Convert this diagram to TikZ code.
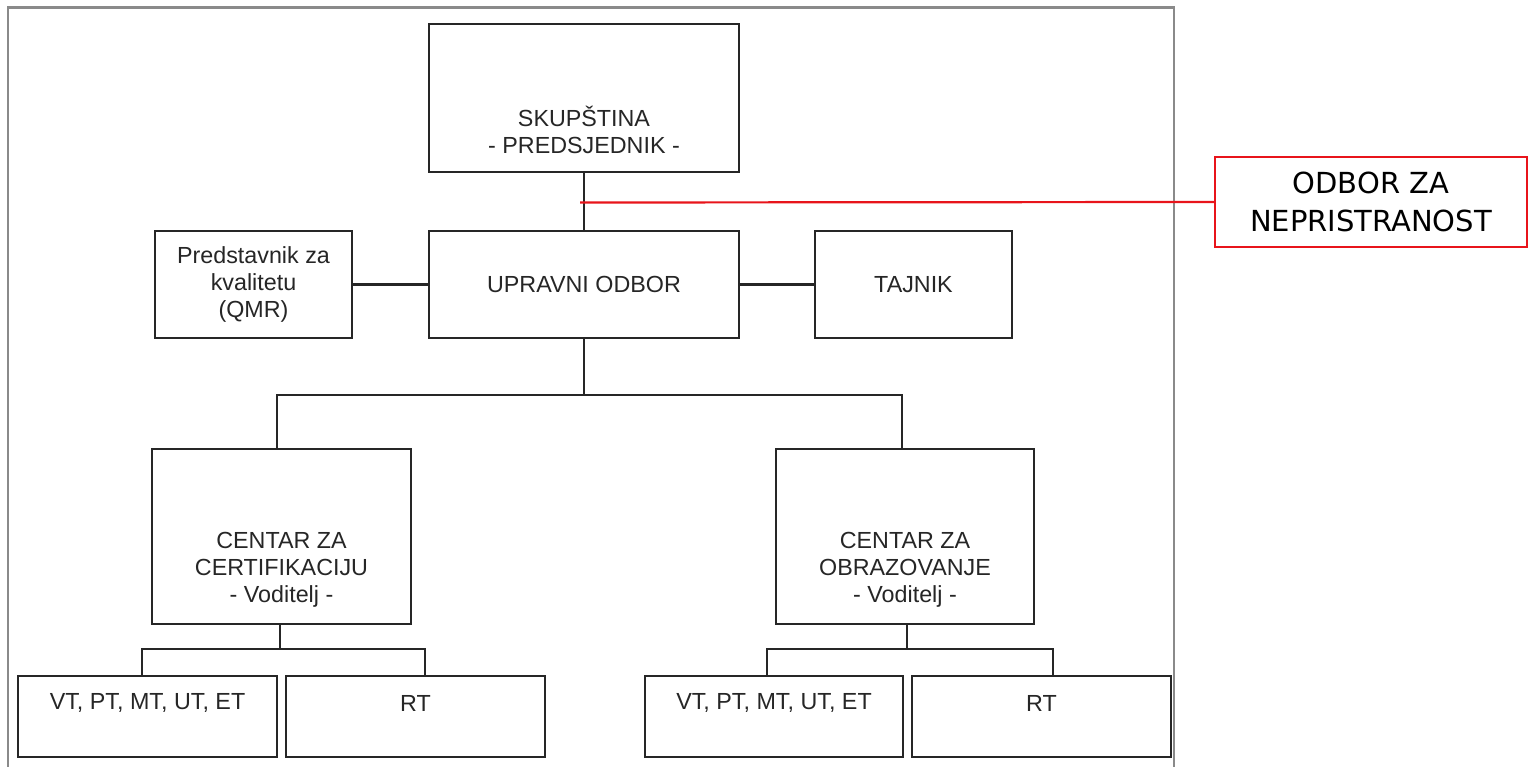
\documentclass[tikz,border=0pt]{standalone}
\usepackage{fontspec}
\setmainfont{Liberation Sans}
\newfontfamily\redfont{DejaVu Sans}
\definecolor{ink}{HTML}{262626}
\definecolor{framegray}{HTML}{8A8A8A}
\definecolor{redline}{HTML}{E8141B}
\begin{document}
\begin{tikzpicture}[x=1pt,y=-1pt,
  box/.style={draw=ink,line width=2.6pt,rectangle,inner sep=0pt,fill=white},
  txt/.style={text=ink,align=center,font=\fontsize{23.3}{27}\selectfont,inner sep=0pt},
  conn/.style={draw=ink,line width=2.3pt},
  redbox/.style={draw=redline,line width=2.2pt,rectangle,inner sep=0pt,align=center,
     font=\redfont\fontsize{29}{38.5}\selectfont,text=black},
  redconn/.style={draw=redline,line width=2.2pt}]
\useasboundingbox (0,0) rectangle (1531,767);
\fill[white] (0,0) rectangle (1531,767);
% frame
\draw[framegray,line width=2.2pt] (8,767) -- (8,7.5) -- (1174,7.5) -- (1174,767);

% boxes
\node[box,minimum width=310pt,minimum height=148pt] (skup) at (584,98) {};
\node[txt] (skupt) at (584,130) {SKUPŠTINA\\- PREDSJEDNIK -};
\node[box,minimum width=310pt,minimum height=107pt,txt] (upr) at (584,284.5) {UPRAVNI ODBOR};
\node[box,minimum width=197pt,minimum height=107pt,txt] (qmr) at (253.5,284.5) {Predstavnik za\\kvalitetu\\(QMR)};
\node[box,minimum width=197pt,minimum height=107pt,txt] (taj) at (913.5,284.5) {TAJNIK};

\node[box,minimum width=259pt,minimum height=175pt] (cc) at (281.5,536.5) {};
\node[txt] (cct) at (281.5,570) {CENTAR ZA\\CERTIFIKACIJU\\- Voditelj -};
\node[box,minimum width=258pt,minimum height=175pt] (co) at (905,536.5) {};
\node[txt] (cot) at (905,570) {CENTAR ZA\\OBRAZOVANJE\\- Voditelj -};

\node[box,minimum width=259pt,minimum height=81pt] (b1) at (147.5,716.5) {};
\node[txt] (b1t) at (147.5,703) {VT, PT, MT, UT, ET};
\node[box,minimum width=259pt,minimum height=81pt] (b2) at (415.5,716.5) {};
\node[txt] (b2t) at (415.5,703) {RT};
\node[box,minimum width=258pt,minimum height=81pt] (b3) at (774,716.5) {};
\node[txt] (b3t) at (774,703) {VT, PT, MT, UT, ET};
\node[box,minimum width=259pt,minimum height=81pt] (b4) at (1041.5,716.5) {};
\node[txt] (b4t) at (1041.5,703) {RT};

\node[redbox,minimum width=312pt,minimum height=90pt] (odb) at (1371,202) {ODBOR ZA\\NEPRISTRANOST};

% connectors
\draw[conn] (skup.south) -- (upr.north);
\draw[conn] (qmr.east) -- (upr.west);
\draw[conn] (upr.east) -- (taj.west);
\draw[conn] (upr.south) -- (584,395) coordinate (j1);
\draw[conn] (j1) -| ([xshift=-4.5pt]cc.north);
\draw[conn] (j1) -| ([xshift=-3pt]co.north);
\draw[conn] ([xshift=-1.5pt]cc.south) -- ++(0,24) coordinate (j2);
\draw[conn] (j2) -| ([xshift=-5.5pt]b1.north);
\draw[conn] (j2) -| ([xshift=9.5pt]b2.north);
\draw[conn] ([xshift=2pt]co.south) -- ++(0,24) coordinate (j3);
\draw[conn] (j3) -| ([xshift=-7pt]b3.north);
\draw[conn] (j3) -| ([xshift=11.5pt]b4.north);
\coordinate (rs) at (580,202.5);
\draw[redconn] (rs) -- (odb.west);
\end{tikzpicture}
\end{document}
